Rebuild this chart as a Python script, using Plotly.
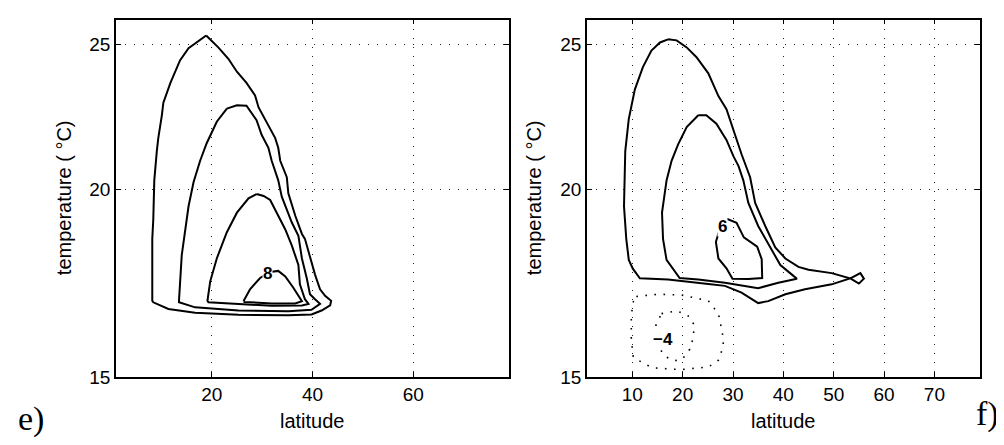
import plotly.graph_objects as go
import math

# ---------------- data (latitude, temperature) ----------------
# panel e) contour levels 2, 4, 6, 8
e_level2 = [[18.9, 25.33], [21.3, 24.87], [23.3, 24.44], [25.0, 23.96], [26.9, 23.55], [28.6, 23.1],
            [29.3, 22.68], [30.9, 22.19], [32.6, 21.64], [33.2, 21.32], [33.6, 20.9], [34.9, 20.38],
            [35.2, 19.88], [36.6, 19.2], [37.9, 18.68], [38.5, 18.54], [39.8, 17.9], [40.5, 17.55],
            [41.5, 17.16], [42.5, 16.99], [43.7, 16.86], [43.5, 16.74], [41.8, 16.61], [39.8, 16.51],
            [35.2, 16.49], [25.3, 16.5], [16.7, 16.55], [11.4, 16.65], [8.4, 16.82], [8.2, 16.86],
            [8.2, 17.72], [8.2, 18.54], [8.4, 19.1], [8.6, 20.28], [9.1, 21.21], [9.4, 21.65],
            [10.1, 22.41], [10.4, 22.85], [11.8, 23.55], [13.7, 24.38], [15.4, 24.84], [17.4, 25.13],
            [18.9, 25.33]]
e_level4 = [[23.0, 22.64], [25.0, 22.76], [26.9, 22.74], [28.9, 22.24], [29.9, 21.75], [31.25, 21.32],
            [31.9, 20.9], [33.2, 20.28], [33.9, 19.78], [35.9, 19.01], [37.2, 18.63], [37.9, 17.99],
            [38.85, 17.46], [39.5, 17.03], [40.5, 16.9], [41.5, 16.78], [39.8, 16.63], [35.2, 16.59],
            [25.3, 16.61], [16.7, 16.69], [13.5, 16.82], [13.5, 16.86], [14.05, 18.08], [15.4, 19.49],
            [16.4, 20.23], [17.7, 20.9], [19.0, 21.47], [21.0, 22.19], [23.0, 22.64]]
e_level6 = [[28.9, 19.86], [30.3, 19.8], [31.6, 19.68], [33.2, 19.2], [34.6, 18.81], [35.9, 18.35],
            [37.2, 17.81], [37.5, 17.29], [38.5, 16.9], [39.2, 16.78], [37.9, 16.74], [31.9, 16.73],
            [25.3, 16.78], [19.35, 16.82], [19.15, 16.86], [19.7, 17.37], [21.0, 17.99], [23.0, 18.73],
            [25.0, 19.3], [27.3, 19.73], [28.9, 19.86]]
e_level8 = [[26.3, 16.85], [27.6, 17.16], [29.6, 17.46], [31.6, 17.62], [33.2, 17.65], [34.6, 17.5],
            [36.2, 17.2], [37.9, 16.85], [36.55, 16.79], [31.9, 16.79], [26.3, 16.83]]

# panel f) contour levels 2, 4, 6 and negative levels -2, -4
f_level2 = [[17.1, 25.18], [18.8, 25.14], [20.8, 24.87], [22.75, 24.5], [25.1, 23.9], [27.1, 23.08],
            [28.7, 22.62], [30.4, 21.75], [31.7, 21.11], [33.4, 20.38], [34.4, 19.59], [36.4, 18.91],
            [38.4, 18.3], [40.4, 17.99], [43.0, 17.76], [45.0, 17.68], [49.6, 17.59], [53.3, 17.45],
            [55.3, 17.59], [56.0, 17.44], [55.0, 17.31], [53.3, 17.45], [49.6, 17.29], [44.3, 17.16],
            [40.4, 17.03], [37.0, 16.85], [35.0, 16.8], [31.7, 17.07], [28.4, 17.25], [25.1, 17.3],
            [19.8, 17.37], [17.1, 17.42], [11.5, 17.45], [10.1, 17.71], [9.3, 17.95], [8.8, 18.54],
            [8.35, 19.49], [8.4, 20.08], [8.6, 21.21], [9.3, 22.29], [10.5, 23.31], [12.1, 24.13],
            [13.8, 24.75], [15.5, 25.06], [17.1, 25.18]]
f_level4 = [[23.1, 22.41], [24.7, 22.41], [26.7, 22.12], [28.7, 21.58], [30.1, 21.04], [31.1, 20.73],
            [32.05, 20.28], [33.05, 19.59], [35.0, 18.91], [37.4, 18.3], [39.4, 17.81], [41.7, 17.55],
            [42.7, 17.44], [39.0, 17.33], [35.0, 17.19], [28.4, 17.33], [23.1, 17.42], [19.4, 17.46],
            [16.8, 17.95], [16.1, 18.54], [15.9, 19.3], [16.8, 20.28], [17.8, 20.9], [19.1, 21.43],
            [20.8, 22.01], [23.1, 22.41]]
f_level6 = [[27.8, 19.1], [28.9, 19.11], [30.7, 19.0], [32.15, 18.58], [34.8, 18.32], [35.7, 17.97],
            [35.8, 17.46], [33.05, 17.43], [29.9, 17.44], [28.7, 17.72], [27.1, 17.99], [26.6, 18.45],
            [27.3, 18.79], [27.8, 19.1]]
f_level_m2 = [[10.8, 16.97], [15.1, 17.03], [19.8, 17.01], [25.1, 16.86], [27.1, 16.53], [27.9, 16.05],
              [28.1, 15.73], [27.1, 15.39], [25.1, 15.23], [19.5, 15.17], [14.1, 15.21], [12.5, 15.3],
              [10.2, 15.46], [9.8, 15.88], [9.8, 16.45], [10.1, 16.81], [10.8, 16.97]]
f_level_m4 = [[15.8, 16.53], [18.9, 16.6], [21.3, 16.46], [22.3, 16.24], [22.1, 15.93], [21.4, 15.65],
              [19.9, 15.41], [18.5, 15.38], [16.8, 15.46], [15.5, 15.65], [14.7, 15.88], [14.7, 16.24],
              [15.8, 16.53]]

# contour labels: (lat, temp, text)
e_labels = [[31.1, 17.57, "8"]]
f_labels = [[27.9, 18.89, "6"], [16.1, 15.88, "\u22124"]]

e_xticks = [20, 40, 60]
f_xticks = [10, 20, 30, 40, 50, 60, 70]
y_ticks = [15, 20, 25]
lat_range = [1, 79]
temp_range = [15, 25.95]

# ---------------- figure ----------------
fig = go.Figure()

def add_line(pts, xa, ya, dotted=False):
    fig.add_trace(go.Scatter(
        x=[p[0] for p in pts], y=[p[1] for p in pts], mode="lines",
        xaxis=xa, yaxis=ya, hoverinfo="skip", showlegend=False,
        line=dict(color="black", width=1.6 if dotted else 2.0,
                  dash="1.6px,7.5px" if dotted else "solid")))

for c in [e_level2, e_level4, e_level6, e_level8]:
    add_line(c, "x", "y")
for c in [f_level2, f_level4, f_level6]:
    add_line(c, "x2", "y2")
for c in [f_level_m2, f_level_m4]:
    add_line(c, "x2", "y2", dotted=True)

tickfont = dict(family="Liberation Sans, Arial, sans-serif", size=19, color="black")
common_x = dict(range=lat_range, showline=True, linecolor="black", linewidth=1.5, mirror="ticks",
                ticks="inside", ticklen=5, tickcolor="black", tickwidth=1,
                showgrid=True, gridcolor="#222", gridwidth=1, griddash="1px,8px",
                zeroline=False, tickfont=tickfont, tickmode="array")
common_y = dict(type="log", range=[math.log10(temp_range[0]), math.log10(temp_range[1])],
                showline=True, linecolor="black", linewidth=1.5, mirror="ticks",
                ticks="inside", ticklen=5, tickcolor="black", tickwidth=1,
                showgrid=True, gridcolor="#222", gridwidth=1, griddash="1px,8px",
                zeroline=False, tickfont=tickfont, tickmode="array",
                tickvals=y_ticks, ticktext=[str(v) for v in y_ticks])

fig.update_layout(
    width=1004, height=445, autosize=False,
    margin=dict(l=0, r=0, t=0, b=0),
    paper_bgcolor="white", plot_bgcolor="white",
    xaxis=dict(domain=[108/1004, 501/1004], anchor="y", tickvals=e_xticks,
               ticktext=[str(v) for v in e_xticks], **common_x),
    yaxis=dict(domain=[1-378.3/445, 1-12/445], anchor="x", **common_y),
    xaxis2=dict(domain=[579/1004, 971.7/1004], anchor="y2", tickvals=f_xticks,
                ticktext=[str(v) for v in f_xticks], **common_x),
    yaxis2=dict(domain=[1-378.3/445, 1-12/445], anchor="x2", **common_y),
)

labfont = dict(family="Liberation Sans, Arial, sans-serif", size=17, color="black")
for lat, t, txt in e_labels:
    fig.add_annotation(x=lat, y=math.log10(t), xref="x", yref="y", text="<b>%s</b>" % txt,
                       showarrow=False, font=labfont, bgcolor="white", borderpad=0)
for lat, t, txt in f_labels:
    fig.add_annotation(x=lat, y=math.log10(t), xref="x2", yref="y2", text="<b>%s</b>" % txt,
                       showarrow=False, font=labfont, bgcolor="white", borderpad=0)

axfont = dict(family="Liberation Sans, Arial, sans-serif", size=20, color="black")
for cx in [(108+501)/2/1004, (579+971.7)/2/1004]:
    fig.add_annotation(x=cx, y=1-423/445, xref="paper", yref="paper", text="latitude",
                       showarrow=False, font=axfont, xanchor="center", yanchor="middle")
for cx in [56/1004, 526/1004]:
    fig.add_annotation(x=cx, y=1-195/445, xref="paper", yref="paper", text="temperature ( °C)",
                       showarrow=False, font=axfont, textangle=-90, xanchor="center", yanchor="middle")

serif = dict(family="Liberation Serif, Times New Roman, serif", size=34, color="black")
fig.add_annotation(x=23/1004, y=1-421/445, xref="paper", yref="paper", text="e)",
                   showarrow=False, font=serif, xanchor="center", yanchor="middle")
fig.add_annotation(x=993/1004, y=1-416/445, xref="paper", yref="paper", text="f)",
                   showarrow=False, font=serif, xanchor="right", yanchor="middle")

fig.write_html("out.html")
